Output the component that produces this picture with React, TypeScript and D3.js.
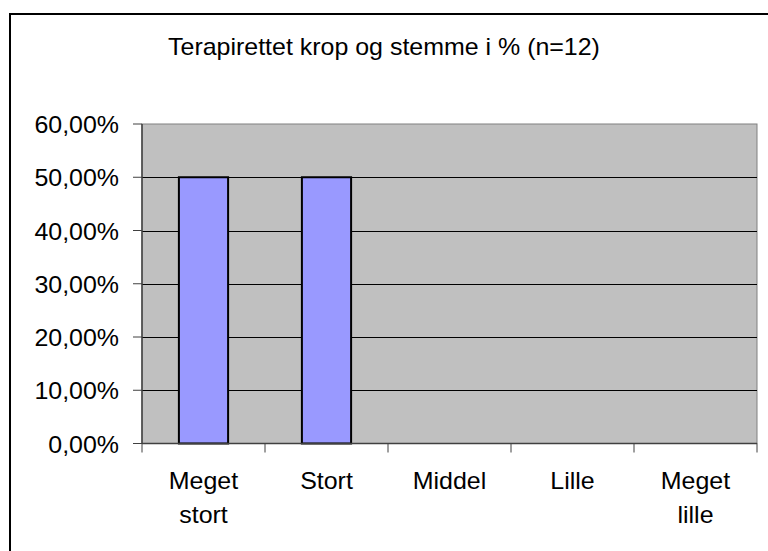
import React from "react";
import * as d3 from "d3";

const categories: string[][] = [["Meget", "stort"], ["Stort"], ["Middel"], ["Lille"], ["Meget", "lille"]];
const values: number[] = [0.5, 0.5, 0, 0, 0];
const yTicks: number[] = [0, 0.1, 0.2, 0.3, 0.4, 0.5, 0.6];
const title = "Terapirettet krop og stemme i % (n=12)";

const W = 768, H = 551;
const left = 142, right = 757, top = 124, bottom = 443.5;
const SX = 1.04;
const FS = 24;
const FONT = "Liberation Sans, Arial, sans-serif";

export default function App() {
  const x = d3.scaleBand<number>().domain(d3.range(categories.length)).range([left, right]).paddingInner(0.6).paddingOuter(0.3);
  const y = d3.scaleLinear().domain([0, 0.6]).range([bottom, top]);
  const step = (right - left) / categories.length;
  const fmt = (v: number) => (v * 100).toFixed(2).replace(".", ",") + "%";
  return (
    <svg width={W} height={H} style={{ position: "absolute", left: 0, top: 0, background: "#fff" }} fontFamily={FONT}>
      <rect x={10} y={14} width={800} height={600} fill="#fff" stroke="#000" strokeWidth={2} />
      <g transform={`translate(384,55) scale(${SX},1)`}>
        <text textAnchor="middle" fontSize={FS} fill="#000">{title}</text>
      </g>
      <rect x={left} y={top} width={right - left} height={bottom - top} fill="#C0C0C0" stroke="#808080" strokeWidth={1} />
      {yTicks.filter(t => t > 0 && t < 0.6).map(t => (
        <line key={"g" + t} x1={left} x2={right} y1={Math.round(y(t)) + 0.5} y2={Math.round(y(t)) + 0.5} stroke="#000" strokeWidth={1} />
      ))}
      {categories.map((c, i) => values[i] > 0 ? (
        <rect key={"b" + i} x={x(i)} y={y(values[i])} width={x.bandwidth()} height={y(0) - y(values[i])} fill="#9999FF" stroke="#000" strokeWidth={2} />
      ) : null)}
      <line x1={left} x2={left} y1={top} y2={bottom} stroke="#404040" strokeWidth={1.5} />
      <line x1={left} x2={right} y1={bottom} y2={bottom} stroke="#404040" strokeWidth={1.5} />
      {yTicks.map(t => (
        <g key={"y" + t}>
          <line x1={left - 9} x2={left} y1={y(t)} y2={y(t)} stroke="#404040" strokeWidth={1} />
          <g transform={`translate(119,${y(t) + 9}) scale(${SX},1)`}>
            <text textAnchor="end" fontSize={FS} fill="#000">{fmt(t)}</text>
          </g>
        </g>
      ))}
      {d3.range(categories.length + 1).map(i => (
        <line key={"xt" + i} x1={left + i * step} x2={left + i * step} y1={bottom} y2={bottom + 9} stroke="#404040" strokeWidth={1} />
      ))}
      {categories.map((c, i) => (
        <g key={"xl" + i} transform={`translate(${left + (i + 0.5) * step},489) scale(${SX},1)`}>
          {c.map((line, j) => (
            <text key={j} y={j * 34} textAnchor="middle" fontSize={FS} fill="#000">{line}</text>
          ))}
        </g>
      ))}
    </svg>
  );
}
